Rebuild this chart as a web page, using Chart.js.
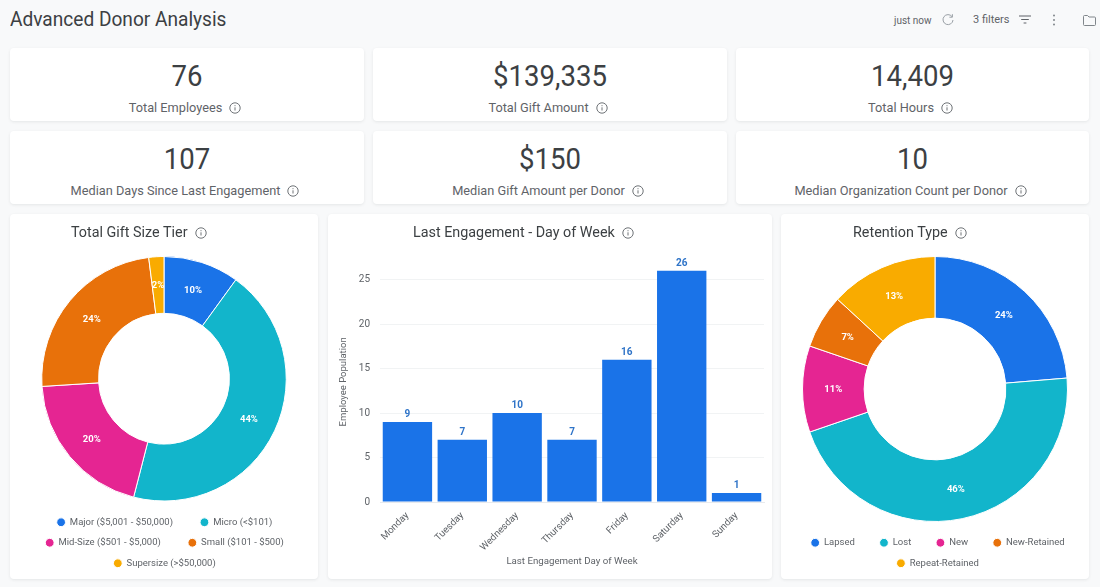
<!DOCTYPE html>
<html><head><meta charset="utf-8">
<script src="https://cdn.jsdelivr.net/npm/chart.js@4"></script>
<style>
html,body{margin:0;padding:0;background:#f8f9fa;width:1100px;height:587px;overflow:hidden;font-family:Roboto,sans-serif;color:#3c4043}
.abs{position:absolute;white-space:nowrap}
.card{position:absolute;background:#fff;border-radius:4px;box-shadow:0 1px 3px rgba(60,64,67,.10)}
.val{position:absolute;left:0;right:0;text-align:center;top:10px;font-size:29px;line-height:36px;color:#3c4043;transform:scaleX(.95)}
.lab{position:absolute;left:0;right:4px;top:51px;line-height:18px;text-align:center;font-size:12.75px;color:#5f6368}
.lab svg,.ttl svg{vertical-align:-2px;margin-left:7px}
.ttl{position:absolute;top:9px;line-height:20px;font-size:14.35px;color:#3c4043;white-space:nowrap}
canvas{position:absolute;left:0;top:0}
</style></head><body>
<div class="abs" style="left:10px;top:6px;font-size:20px;line-height:26px;color:#3c4043;transform:scaleX(.955);transform-origin:left center">Advanced Donor Analysis</div>
<div class="abs" style="left:894px;top:14px;font-size:10px;line-height:13px;color:#5f6368">just now</div>
<svg class="abs" style="left:941px;top:13px" width="14" height="14" viewBox="0 0 14 14" fill="none" stroke="#9aa0a6" stroke-width="1"><path d="M11 3.6A5 5 0 1 0 12 7"/><path d="M11.4 1.2v3h-3" /></svg>
<div class="abs" style="left:973px;top:13px;font-size:11px;line-height:14px;color:#5f6368">3 filters</div>
<svg class="abs" style="left:1018px;top:14px" width="14" height="12" viewBox="0 0 14 12" stroke="#5f6368" stroke-width="1.2"><path d="M1 2h12M3.2 5.5h7.6M5.6 9h2.8"/></svg>
<svg class="abs" style="left:1051px;top:13px" width="6" height="14" viewBox="0 0 6 14" fill="#80868b"><circle cx="3" cy="2.5" r="1"/><circle cx="3" cy="7" r="1"/><circle cx="3" cy="11.5" r="1"/></svg>
<svg class="abs" style="left:1082px;top:14px" width="15" height="13" viewBox="0 0 15 13" fill="none" stroke="#80868b"><path d="M1.5 2.5q0-1 1-1h3l1.5 1.5h5.5q1 0 1 1v6.500q0 1-1 1h-10q-1 0-1-1z"/></svg>
<div id="root"></div>
<script>
const kpiValues = ["76", "$139,335", "14,409", "107", "$150", "10"];
const kpiLabels = ["Total Employees", "Total Gift Amount", "Total Hours", "Median Days Since Last Engagement", "Median Gift Amount per Donor", "Median Organization Count per Donor"];
const tierLabels = ["Major ($5,001 - $50,000)", "Micro (<$101)", "Mid-Size ($501 - $5,000)", "Small ($101 - $500)", "Supersize (>$50,000)"];
const tierValues = [10, 44, 20, 24, 2];
const dayLabels = ["Monday", "Tuesday", "Wednesday", "Thursday", "Friday", "Saturday", "Sunday"];
const dayValues = [9, 7, 10, 7, 16, 26, 1];
const retentionLabels = ["Lapsed", "Lost", "New", "New-Retained", "Repeat-Retained"];
const retentionValues = [18, 35, 8, 5, 10];
const palette = ["#1a73e8", "#12b5cb", "#e52592", "#e8710a", "#f9ab00"];

const info = '<svg width="12" height="12" viewBox="0 0 12 12" fill="none" stroke="#5f6368" stroke-width=".9"><circle cx="6" cy="6" r="5.2"/><path d="M6 5.3v3.2M6 3.2v1"/></svg>';
const root = document.getElementById('root');
const kpiX = [[10,354],[373,354],[736,353]], kpiY = [48,131];
kpiValues.forEach((v,i)=>{
  const c=document.createElement('div');c.className='card';
  const p=kpiX[i%3];
  c.style.cssText=`left:${p[0]}px;top:${kpiY[i>2?1:0]}px;width:${p[1]}px;height:73px`;
  const val=document.createElement('div');val.className='val';val.textContent=v;
  const lab=document.createElement('div');lab.className='lab';lab.textContent=kpiLabels[i];
  lab.insertAdjacentHTML('beforeend',info);
  c.append(val,lab);root.append(c);
});
function panel(x,w,title,titleLeft){
  const c=document.createElement('div');c.className='card';
  c.style.cssText=`left:${x}px;top:214px;width:${w}px;height:365px`;
  const cv=document.createElement('canvas');cv.width=w;cv.height=365;cv.style.width=w+'px';cv.style.height='365px';
  const t=document.createElement('div');t.className='ttl';t.style.left=titleLeft+'px';t.textContent=title;
  t.insertAdjacentHTML('beforeend',info);
  c.append(cv,t);root.append(c);
  return cv;
}
const pctLabels={id:'pctLabels',afterDatasetsDraw(chart){
  const ctx=chart.ctx,ds=chart.data.datasets[0],sum=ds.data.reduce((a,b)=>a+b,0);
  ctx.save();ctx.font='bold 9.5px Roboto';ctx.fillStyle='#fff';ctx.textAlign='center';ctx.textBaseline='middle';
  chart.getDatasetMeta(0).data.forEach((el,i)=>{
    const p=el.tooltipPosition();
    ctx.fillText(Math.round(ds.data[i]/sum*100)+'%',p.x,p.y+1);
  });
  ctx.restore();
}};
const barLabels={id:'barLabels',afterDatasetsDraw(chart){
  const ctx=chart.ctx,ds=chart.data.datasets[0];
  ctx.save();ctx.font='bold 10px Roboto';ctx.fillStyle='#2f74c8';ctx.textAlign='center';ctx.textBaseline='alphabetic';
  chart.getDatasetMeta(0).data.forEach((el,i)=>ctx.fillText(String(ds.data[i]),el.x,el.y-5));
  ctx.restore();
}};
const legendShift={id:'legendShift',afterLayout(chart,a,o){
  chart.legend.left+=o.x;chart.legend.right+=o.x;chart.legend.top+=o.y;chart.legend.bottom+=o.y;
}};
function donut(cv,labels,values,padTop,padBottom,shift,gapCount){
  const gap='\u00a0'.repeat(gapCount);
  return new Chart(cv,{type:'doughnut',
    data:{labels,datasets:[{data:values,backgroundColor:palette,borderColor:'#fff',borderWidth:1}]},
    plugins:[pctLabels,legendShift],
    options:{responsive:false,animation:false,cutout:'53.5%',
      layout:{padding:{top:padTop,bottom:padBottom,left:0,right:0}},
      plugins:{tooltip:{enabled:false},legendShift:shift,
        legend:{position:'bottom',labels:{usePointStyle:true,pointStyle:'circle',boxWidth:8,boxHeight:6.2,padding:11,color:'#5f6368',font:{family:'Roboto',size:9.5},
          generateLabels(ch){return Chart.overrides.doughnut.plugins.legend.labels.generateLabels(ch).map(l=>({...l,text:l.text+gap}));}}}}}});
}
donut(panel(10,308,"Total Gift Size Tier",61),tierLabels,tierValues,42,6,{x:9,y:5},7);
new Chart(panel(328,444,"Last Engagement - Day of Week",85),{type:'bar',
  data:{labels:dayLabels,datasets:[{data:dayValues,backgroundColor:palette[0],barPercentage:.9,categoryPercentage:1}]},
  plugins:[barLabels],
  options:{responsive:false,animation:false,
    layout:{padding:{top:47.800,right:8,left:0,bottom:0}},
    plugins:{legend:{display:false},tooltip:{enabled:false}},
    scales:{
      y:{min:0,max:27,afterFit(s){s.width=52;},
        border:{display:false},grid:{color:'#f1f3f4',drawTicks:false},
        ticks:{stepSize:5,includeBounds:false,padding:10,color:'#5f6368',font:{family:'Roboto',size:10}},
        title:{display:true,text:'Employee Population',color:'#5f6368',font:{family:'Roboto',size:9.5},padding:{top:10,bottom:0}}},
      x:{afterFit(s){s.height=77;},
        border:{color:'#e8eaed'},grid:{display:false},
        ticks:{minRotation:45,maxRotation:45,padding:0,color:'#5f6368',font:{family:'Roboto',size:9.7}},
        title:{display:true,text:'Last Engagement Day of Week',color:'#5f6368',font:{family:'Roboto',size:9.7},padding:{top:0,bottom:12}}}
    }}});
donut(panel(781,308,"Retention Type",72),retentionLabels,retentionValues,42,6,{x:10,y:5},6);
</script>
</body></html>
